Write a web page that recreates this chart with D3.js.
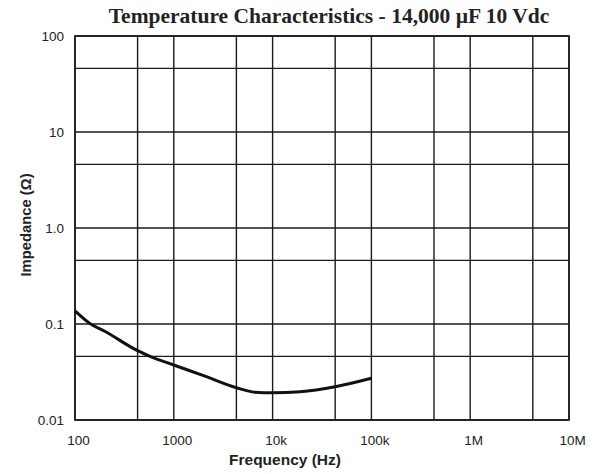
<!DOCTYPE html>
<html>
<head>
<meta charset="utf-8">
<script src="https://cdn.jsdelivr.net/npm/d3@7"></script>
<style>
  body { margin: 0; background: #fff; }
  svg { display: block; }
</style>
</head>
<body>
<div id="chart"></div>
<script>
// Impedance curve (Hz, ohms)
const freqHz = [100, 144, 200, 430, 575, 1000, 2000, 4300, 6600, 10000, 19000, 43000, 100000];
const impedanceOhm = [0.137, 0.1, 0.084, 0.0527, 0.046, 0.0374, 0.029, 0.0217, 0.0195, 0.0192, 0.0197, 0.0222, 0.0272];

// Axis ticks and grid lines
const xTicks = [100, 1000, 10000, 100000, 1000000, 10000000];
const xTickLabels = ["100", "1000", "10k", "100k", "1M", "10M"];
const xMinorGrid = [430, 4300, 43000, 430000, 4300000];
const yTicks = [0.01, 0.1, 1, 10, 100];
const yTickLabels = ["0.01", "0.1", "1.0", "10", "100"];
const yMinorGrid = [0.046, 0.46, 4.6, 46];

const W = 599, H = 474;
const margin = { top: 36, right: 30, bottom: 54, left: 75 };
const width = W - margin.left - margin.right;
const height = H - margin.top - margin.bottom;

const svg = d3.select("#chart").append("svg")
  .attr("width", W)
  .attr("height", H);

const g = svg.append("g")
  .attr("transform", `translate(${margin.left},${margin.top})`);

const x = d3.scaleLog().domain([100, 1e7]).range([0, width]);
const y = d3.scaleLog().domain([0.01, 100]).range([height, 0]);

// grid lines
const grid = g.append("g").attr("stroke", "#1a1a1a").attr("stroke-width", 1.4);
grid.selectAll(".vx")
  .data(xTicks.concat(xMinorGrid))
  .join("line")
  .attr("x1", d => x(d)).attr("x2", d => x(d))
  .attr("y1", 0).attr("y2", height);
grid.selectAll(".hy")
  .data(yTicks.concat(yMinorGrid))
  .join("line")
  .attr("x1", 0).attr("x2", width)
  .attr("y1", d => y(d)).attr("y2", d => y(d));

// frame
g.append("rect")
  .attr("width", width).attr("height", height)
  .attr("fill", "none").attr("stroke", "#1a1a1a").attr("stroke-width", 1.6);

// x axis labels
const xAxis = g.append("g")
  .attr("transform", `translate(0,${height})`)
  .call(d3.axisBottom(x).tickValues(xTicks).tickSize(0).tickPadding(15)
    .tickFormat((d, i) => xTickLabels[i]));
xAxis.select(".domain").remove();
xAxis.selectAll("text")
  .attr("dx", 3)
  .attr("font-family", "Liberation Sans, Arial, sans-serif")
  .attr("font-size", 13.5)
  .attr("fill", "#222");

// y axis labels
const yAxis = g.append("g")
  .call(d3.axisLeft(y).tickValues(yTicks).tickSize(0).tickPadding(11)
    .tickFormat((d, i) => yTickLabels[i]));
yAxis.select(".domain").remove();
yAxis.selectAll("text")
  .attr("font-family", "Liberation Sans, Arial, sans-serif")
  .attr("font-size", 13.5)
  .attr("fill", "#222");

// impedance curve
const line = d3.line()
  .x((d, i) => x(freqHz[i]))
  .y(d => y(d))
  .curve(d3.curveMonotoneX);

g.append("path")
  .datum(impedanceOhm)
  .attr("fill", "none")
  .attr("stroke", "#111")
  .attr("stroke-width", 3)
  .attr("d", line);

// title and axis titles
svg.append("text")
  .attr("x", 329).attr("y", 23)
  .attr("text-anchor", "middle")
  .attr("font-family", "Liberation Serif, Times New Roman, serif")
  .attr("font-weight", "bold")
  .attr("font-size", 21.5)
  .attr("fill", "#222")
  .text("Temperature Characteristics - 14,000 \u00b5F 10 Vdc");

svg.append("text")
  .attr("x", 285).attr("y", 465)
  .attr("text-anchor", "middle")
  .attr("font-family", "Liberation Sans, Arial, sans-serif")
  .attr("font-weight", "bold")
  .attr("font-size", 15.5)
  .attr("fill", "#222")
  .text("Frequency (Hz)");

svg.append("text")
  .attr("transform", "translate(31,225) rotate(-90)")
  .attr("text-anchor", "middle")
  .attr("font-family", "Liberation Sans, Arial, sans-serif")
  .attr("font-weight", "bold")
  .attr("font-size", 14.8)
  .attr("fill", "#222")
  .text("Impedance (\u03a9)");
</script>
</body>
</html>
